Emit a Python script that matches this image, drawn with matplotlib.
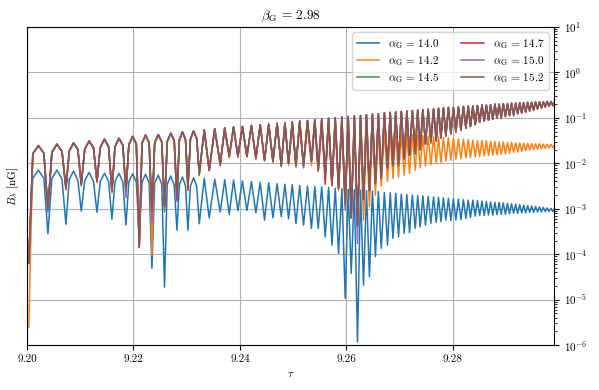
import numpy as np
import matplotlib
matplotlib.use("Agg")
import matplotlib.pyplot as plt
from matplotlib.ticker import LogLocator, FormatStrFormatter, NullFormatter

plt.rcParams['font.family'] = 'serif'
plt.rcParams['font.serif'] = ['cmr10']
plt.rcParams['mathtext.fontset'] = 'cm'
plt.rcParams['axes.formatter.use_mathtext'] = True
plt.rcParams['font.size'] = 8

# times of the minima; maxima sit between them
trough_t = np.array([
    9.20034, 9.20394, 9.20732, 9.21020, 9.21315, 9.21596, 9.21859, 9.22109, 9.22347, 9.22584,
    9.22817, 9.23023, 9.23236, 9.23423, 9.23630, 9.23799, 9.23962, 9.24131, 9.24300, 9.24462,
    9.24620, 9.24776, 9.24913, 9.25052, 9.25194, 9.25343, 9.25470, 9.25602, 9.25728, 9.25852,
    9.25977, 9.26090, 9.26208, 9.26321, 9.26432, 9.26545, 9.26654, 9.26772, 9.26873, 9.26978,
    9.27085, 9.27185, 9.27292, 9.27386, 9.27485, 9.27587, 9.27686, 9.27775, 9.27868, 9.27962,
    9.28056, 9.28150, 9.28244, 9.28330, 9.28419, 9.28503, 9.28588, 9.28668, 9.28749, 9.28828,
    9.28907, 9.28986, 9.29063, 9.29140, 9.29217, 9.29292, 9.29367, 9.29442, 9.29516, 9.29589,
    9.29662, 9.29734, 9.29805, 9.29876, 9.29947])

# the wide arches on the left: times of the flanks (two per arch)
shoulder_t = [
    9.20110, 9.20318, 9.20468, 9.20658, 9.20795, 9.20957, 9.21085, 9.21250,
    9.21377, 9.21534, 9.21654, 9.21801, 9.21914, 9.22054, 9.22161, 9.22295,
    9.22399, 9.22532, 9.22635, 9.22766, 9.22862, 9.22978, 9.23070, 9.23189]

# log10 of B at the maxima / minima / flanks
blue_peak = [
    -2.15, -2.15, -2.17, -2.20, -2.22, -2.22, -2.23, -2.24, -2.26, -2.28,
    -2.30, -2.32, -2.33, -2.35, -2.36, -2.37, -2.39, -2.40, -2.42, -2.43,
    -2.45, -2.46, -2.47, -2.49, -2.50, -2.51, -2.52, -2.53, -2.55, -2.56,
    -2.57, -2.58, -2.59, -2.60, -2.61, -2.62, -2.64, -2.65, -2.66, -2.68,
    -2.69, -2.70, -2.71, -2.72, -2.73, -2.74, -2.75, -2.76, -2.77, -2.78,
    -2.79, -2.80, -2.81, -2.81, -2.82, -2.83, -2.84, -2.85, -2.86, -2.86,
    -2.87, -2.88, -2.89, -2.90, -2.91, -2.92, -2.93, -2.94, -2.95, -2.96,
    -2.97, -2.98, -2.99, -2.99]
blue_trough = [
    -4.00, -3.55, -3.34, -3.05, -3.08, -3.23, -3.36, -3.60, -4.31, -4.72,
    -3.47, -3.47, -3.33, -3.20, -3.07, -3.12, -3.04, -3.04, -3.09, -3.25,
    -3.20, -3.17, -3.22, -3.32, -3.36, -3.43, -3.43, -3.62, -3.80, -3.98,
    -4.97, -4.42, -5.93, -4.68, -4.50, -4.05, -3.87, -3.80, -3.65, -3.62,
    -3.54, -3.52, -3.43, -3.40, -3.36, -3.32, -3.30, -3.28, -3.25, -3.26,
    -3.25, -3.24, -3.21, -3.19, -3.16, -3.15, -3.15, -3.14, -3.14, -3.13,
    -3.12, -3.12, -3.11, -3.10, -3.10, -3.09, -3.09, -3.08, -3.08, -3.07,
    -3.07, -3.06, -3.06, -3.06, -3.05]
blue_shoulder = [
    -2.33, -2.33, -2.33, -2.35, -2.35, -2.38, -2.38, -2.40,
    -2.40, -2.40, -2.40, -2.41, -2.41, -2.42, -2.42, -2.44,
    -2.44, -2.46, -2.46, -2.48, -2.48, -2.50, -2.50, -2.51]

orange_peak = [
    -1.61, -1.58, -1.55, -1.51, -1.47, -1.45, -1.41, -1.38, -1.37, -1.34,
    -1.31, -1.29, -1.27, -1.24, -1.22, -1.20, -1.19, -1.17, -1.15, -1.14,
    -1.13, -1.14, -1.16, -1.19, -1.20, -1.21, -1.22, -1.22, -1.22, -1.22,
    -1.22, -1.22, -1.23, -1.24, -1.26, -1.27, -1.29, -1.31, -1.32, -1.34,
    -1.35, -1.37, -1.38, -1.39, -1.40, -1.41, -1.42, -1.43, -1.44, -1.45,
    -1.46, -1.47, -1.48, -1.49, -1.50, -1.50, -1.51, -1.52, -1.52, -1.53,
    -1.53, -1.54, -1.54, -1.55, -1.55, -1.56, -1.56, -1.57, -1.57, -1.57,
    -1.58, -1.58, -1.58, -1.59]
orange_trough = [
    -5.60, -3.00, -2.54, -2.46, -2.42, -2.65, -2.62, -3.85, -4.02, -2.97,
    -2.80, -2.52, -2.24, -2.17, -2.02, -1.88, -1.87, -1.86, -1.92, -1.95,
    -1.98, -2.08, -2.05, -2.10, -2.10, -2.05, -2.18, -2.28, -2.50, -2.60,
    -2.95, -3.10, -3.30, -3.25, -2.96, -2.70, -2.50, -2.40, -2.33, -2.30,
    -2.26, -2.22, -2.15, -2.10, -2.06, -2.03, -2.00, -1.98, -1.95, -1.93,
    -1.91, -1.90, -1.88, -1.87, -1.86, -1.85, -1.84, -1.83, -1.82, -1.81,
    -1.80, -1.79, -1.78, -1.76, -1.75, -1.74, -1.72, -1.71, -1.70, -1.69,
    -1.68, -1.67, -1.66, -1.65, -1.64]

brown_peak = [
    -1.61, -1.58, -1.55, -1.51, -1.47, -1.45, -1.41, -1.38, -1.37, -1.34,
    -1.31, -1.29, -1.27, -1.24, -1.22, -1.20, -1.19, -1.17, -1.15, -1.14,
    -1.12, -1.11, -1.09, -1.07, -1.06, -1.04, -1.03, -1.01, -1.00, -0.98,
    -0.97, -0.96, -0.95, -0.93, -0.92, -0.91, -0.89, -0.88, -0.87, -0.86,
    -0.85, -0.84, -0.83, -0.82, -0.81, -0.80, -0.79, -0.78, -0.77, -0.77,
    -0.76, -0.75, -0.74, -0.74, -0.73, -0.72, -0.72, -0.71, -0.70, -0.70,
    -0.69, -0.69, -0.68, -0.68, -0.67, -0.67, -0.66, -0.66, -0.65, -0.65,
    -0.65, -0.64, -0.64, -0.64]
brown_trough = [
    -4.20, -3.00, -2.54, -2.46, -2.40, -2.61, -2.60, -3.85, -3.07, -2.95,
    -2.80, -2.50, -2.22, -2.15, -2.00, -1.85, -1.85, -1.85, -1.89, -1.93,
    -1.96, -2.05, -2.00, -2.05, -2.04, -1.95, -2.15, -2.26, -2.48, -2.55,
    -2.90, -3.20, -3.38, -2.80, -2.60, -2.44, -2.33, -2.10, -2.05, -2.00,
    -1.90, -1.82, -1.75, -1.70, -1.58, -1.52, -1.48, -1.44, -1.40, -1.35,
    -1.31, -1.27, -1.23, -1.19, -1.15, -1.10, -1.07, -1.05, -1.03, -1.01,
    -0.99, -0.97, -0.95, -0.93, -0.91, -0.89, -0.87, -0.85, -0.83, -0.80,
    -0.78, -0.76, -0.74, -0.73, -0.72]
brown_shoulder = [
    -1.79, -1.78, -1.76, -1.74, -1.73, -1.70, -1.69, -1.66,
    -1.65, -1.64, -1.63, -1.60, -1.59, -1.57, -1.56, -1.55,
    -1.55, -1.53, -1.52, -1.50, -1.49, -1.48, -1.47, -1.46]

# the alpha = 14.5 / 14.7 / 15.0 runs follow 15.2 except at some minima
green_tips = {3: -2.50, 9: -3.07, 12: -2.27, 39: -2.05, 42: -1.80, 45: -1.56, 60: -1.02, 63: -0.96}
red_tips = {2: -2.58, 11: -2.60, 14: -2.05, 27: -2.46, 46: -1.52}
purple_tips = {1: -3.07, 6: -2.75, 8: -3.30, 10: -2.85, 24: -2.10, 30: -3.03, 32: -3.76}

alphas = ['14.0', '14.2', '14.5', '14.7', '15.0', '15.2']
beta = '2.98'


def tips(base, extra):
    out = list(base)
    for i, v in extra.items():
        out[i] = v
    return out


def curve(peaks, troughs, shoulders):
    peak_t = 0.5 * (trough_t[:-1] + trough_t[1:])
    t = np.concatenate([trough_t, peak_t, shoulder_t])
    y = np.concatenate([troughs, peaks, shoulders])
    order = np.argsort(t)
    return t[order], 10.0 ** y[order]


series = [
    (blue_peak, blue_trough, blue_shoulder),
    (orange_peak, orange_trough, brown_shoulder),
    (brown_peak, tips(brown_trough, green_tips), brown_shoulder),
    (brown_peak, tips(brown_trough, red_tips), brown_shoulder),
    (brown_peak, tips(brown_trough, purple_tips), brown_shoulder),
    (brown_peak, brown_trough, brown_shoulder),
]

fig = plt.figure(figsize=(5.99, 3.90), dpi=100)
ax = fig.add_axes([0.045, 0.115, 0.88, 0.816])

for (pk, tr, sh), a in zip(series, alphas):
    t, b = curve(pk, tr, sh)
    ax.plot(t, b, lw=1.1, label=r'$\alpha_{\rm G}$ = ' + a)

ax.set_yscale('log')
ax.set_ylim(1e-6, 1e1)
ax.set_xlim(9.20, 9.299)
ax.set_xticks([9.20, 9.22, 9.24, 9.26, 9.28])
ax.xaxis.set_major_formatter(FormatStrFormatter('%.2f'))
ax.xaxis.get_offset_text().set_visible(False)
ax.yaxis.set_major_locator(LogLocator(base=10, numticks=12))
ax.yaxis.set_minor_locator(LogLocator(base=10, subs=np.arange(2, 10), numticks=12))
ax.yaxis.set_minor_formatter(NullFormatter())
ax.yaxis.tick_right()
ax.yaxis.set_label_position('left')
ax.grid(True, which='major', color='#b0b0b0', lw=0.8)

ax.set_xlabel(r'$\tau$')
ax.set_ylabel(r'$B_\lambda$ [nG]')
ax.set_title(r'$\beta_{\rm G}$ = ' + beta)
ax.legend(loc='upper right', ncol=2, fontsize=8, labelspacing=0.3)

fig.savefig('out.png', dpi=100)
